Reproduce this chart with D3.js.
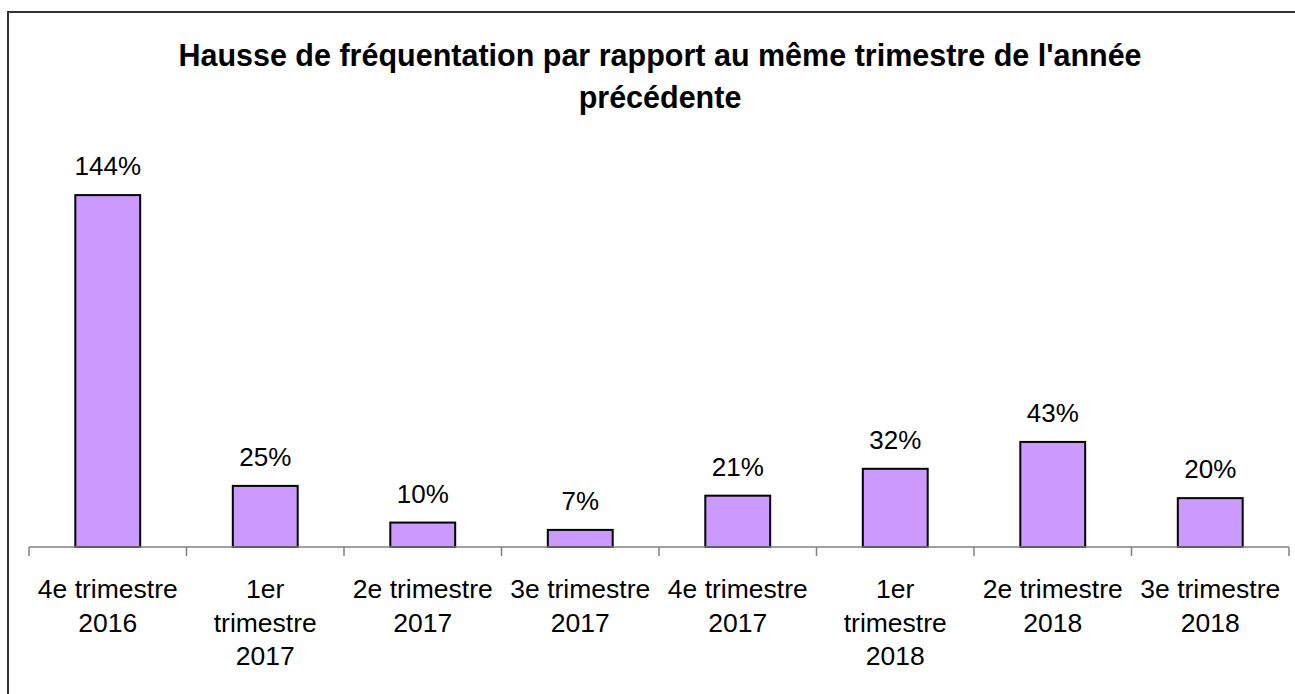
<!DOCTYPE html>
<html>
<head>
<meta charset="utf-8">
<script src="https://cdn.jsdelivr.net/npm/d3@7"></script>
<style>
    body { margin: 0; background: #fff; }
    svg { display: block; font-family: "Liberation Sans", Arial, sans-serif; }
</style>
</head>
<body>
<div id="chart"></div>
<script>
// data
var titleLines = ["Hausse de fréquentation par rapport au même trimestre de l'année", "précédente"];
var categories = [
    ["4e trimestre", "2016"],
    ["1er", "trimestre", "2017"],
    ["2e trimestre", "2017"],
    ["3e trimestre", "2017"],
    ["4e trimestre", "2017"],
    ["1er", "trimestre", "2018"],
    ["2e trimestre", "2018"],
    ["3e trimestre", "2018"]
];
var values = [144, 25, 10, 7, 21, 32, 43, 20];

var width = 1295, height = 694;

var svg = d3.select("#chart")
    .append("svg")
    .attr("width", width)
    .attr("height", height);

// outer frame
svg.append("rect")
    .attr("x", 8).attr("y", 12)
    .attr("width", width).attr("height", height)
    .attr("fill", "none")
    .attr("stroke", "#333")
    .attr("stroke-width", 2);

// title
svg.selectAll(".title")
    .data(titleLines)
    .enter()
    .append("text")
    .attr("class", "title")
    .attr("x", 660)
    .attr("y", function (d, i) { return 66 + i * 42; })
    .attr("text-anchor", "middle")
    .attr("font-size", 30.5)
    .attr("font-weight", "bold")
    .text(function (d) { return d; });

var x = d3.scaleBand()
    .domain(d3.range(values.length))
    .range([29, 1289])
    .paddingInner(0.588)
    .paddingOuter(0.294);

var y = d3.scaleLinear()
    .domain([0, 160])
    .range([547, 156]);

// bars
svg.selectAll(".bar")
    .data(values)
    .enter()
    .append("rect")
    .attr("class", "bar")
    .attr("x", function (d, i) { return x(i); })
    .attr("y", function (d) { return y(d); })
    .attr("width", x.bandwidth())
    .attr("height", function (d) { return y(0) - y(d); })
    .attr("fill", "#CC99FF")
    .attr("stroke", "#000")
    .attr("stroke-width", 2);

// value labels
svg.selectAll(".val")
    .data(values)
    .enter()
    .append("text")
    .attr("class", "val")
    .attr("x", function (d, i) { return x(i) + x.bandwidth() / 2; })
    .attr("y", function (d) { return y(d) - 20; })
    .attr("text-anchor", "middle")
    .attr("font-size", 26)
    .text(function (d) { return d + "%"; });

// category axis, ticks sit between the categories
var step = x.step();
var tickPos = d3.range(values.length + 1).map(function (i) { return 29 + i * step; });

svg.append("line")
    .attr("x1", 29).attr("x2", 1289)
    .attr("y1", y(0)).attr("y2", y(0))
    .attr("stroke", "#808080")
    .attr("stroke-width", 1.5);

svg.selectAll(".tick")
    .data(tickPos)
    .enter()
    .append("line")
    .attr("class", "tick")
    .attr("x1", function (d) { return d; })
    .attr("x2", function (d) { return d; })
    .attr("y1", y(0))
    .attr("y2", y(0) + 9)
    .attr("stroke", "#808080")
    .attr("stroke-width", 1.5);

var cat = svg.selectAll(".cat")
    .data(categories)
    .enter()
    .append("text")
    .attr("class", "cat")
    .attr("text-anchor", "middle")
    .attr("font-size", 26.5);

cat.selectAll("tspan")
    .data(function (d, i) { return d.map(function (s) { return { s: s, i: i }; }); })
    .enter()
    .append("tspan")
    .attr("x", function (d) { return x(d.i) + x.bandwidth() / 2; })
    .attr("y", function (d, j) { return 598 + j * 33.5; })
    .text(function (d) { return d.s; });
</script>
</body>
</html>
